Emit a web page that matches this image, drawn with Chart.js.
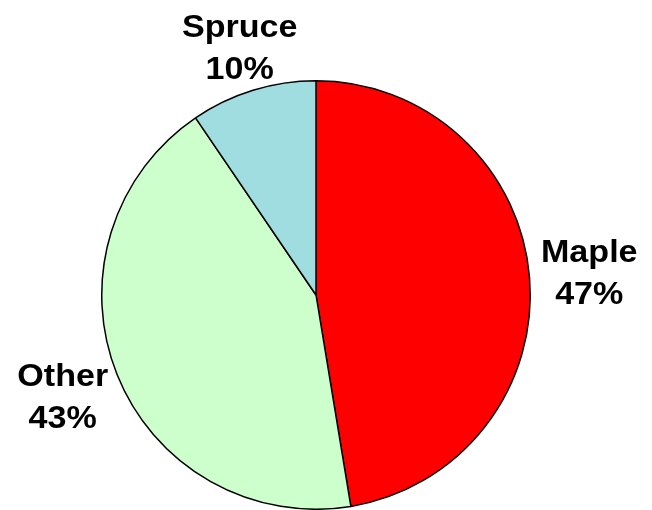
<!DOCTYPE html>
<html>
<head>
<meta charset="utf-8">
<script src="https://cdn.jsdelivr.net/npm/chart.js@4/dist/chart.umd.min.js"></script>
<style>
  html, body { margin: 0; padding: 0; background: #fff; }
  #wrap { width: 652px; height: 510px; }
</style>
</head>
<body>
<div id="wrap"><canvas id="c" width="652" height="510"></canvas></div>
<script>
// chart data
var categories = ["Maple", "Other", "Spruce"];
var shares = [47.4, 43.1, 9.5];
var sliceColors = ["#FF0000", "#CCFFCC", "#A0DDE0"];

// draws "Name\nNN%" outside each slice, along the slice's middle angle
var outsideLabels = {
  id: "outsideLabels",
  afterDatasetsDraw: function(chart) {
    var ctx = chart.ctx;
    var meta = chart.getDatasetMeta(0);
    var total = shares.reduce(function(a, b) { return a + b; }, 0);
    meta.data.forEach(function(arc, i) {
      var p = arc.getProps(["x", "y", "startAngle", "endAngle", "outerRadius"], true);
      var mid = (p.startAngle + p.endAngle) / 2;
      // angle measured from the top, used to push side labels a bit further out
      var fromTop = mid + Math.PI / 2;
      var dist = p.outerRadius + 39 + 21 * Math.abs(Math.sin(fromTop));
      var cx = p.x + Math.cos(mid) * dist;
      var cy = p.y + Math.sin(mid) * dist + 2;
      var pct = Math.round(shares[i] / total * 100) + "%";
      ctx.save();
      ctx.translate(cx, cy);
      ctx.scale(1.1, 1); // the original text is a little wider than Arial
      ctx.font = "bold 31px 'Liberation Sans', Arial, sans-serif";
      ctx.fillStyle = "#000";
      ctx.textAlign = "center";
      ctx.textBaseline = "middle";
      ctx.fillText(categories[i], 0, -21);
      ctx.fillText(pct, 0, 21);
      ctx.restore();
    });
  }
};

new Chart(document.getElementById("c"), {
  type: "pie",
  data: {
    labels: categories,
    datasets: [{
      data: shares,
      backgroundColor: sliceColors,
      borderColor: "#000",
      borderWidth: 1.5
    }]
  },
  options: {
    responsive: false,
    animation: false,
    layout: { padding: { top: 80, bottom: 0, left: 0, right: 20 } },
    plugins: {
      legend: { display: false },
      tooltip: { enabled: false }
    }
  },
  plugins: [outsideLabels]
});
</script>
</body>
</html>
